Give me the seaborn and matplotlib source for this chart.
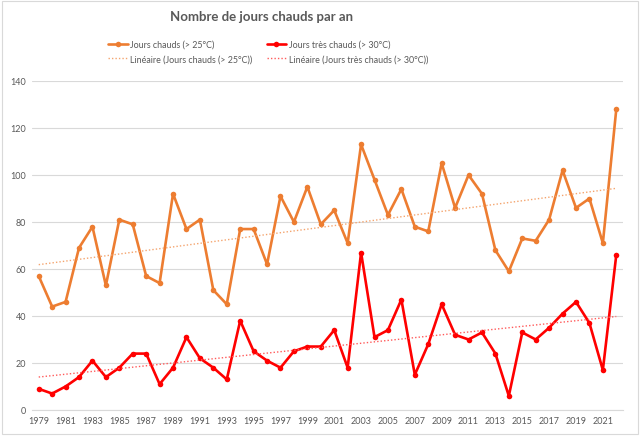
import matplotlib.pyplot as plt
import seaborn as sns
import pandas as pd
from matplotlib.patches import Rectangle

years = list(range(1979, 2023))
jours_chauds = [57, 44, 46, 69, 78, 53, 81, 79, 57, 54, 92, 77, 81, 51, 45, 77, 77, 62, 91, 80, 95, 79,
                85, 71, 113, 98, 83, 94, 78, 76, 105, 86, 100, 92, 68, 59, 73, 72, 81, 102, 86, 90, 71, 128]
jours_tres_chauds = [9, 7, 10, 14, 21, 14, 18, 24, 24, 11, 18, 31, 22, 18, 13, 38, 25, 21, 18, 25, 27, 27,
                     34, 18, 67, 31, 34, 47, 15, 28, 45, 32, 30, 33, 24, 6, 33, 30, 35, 41, 46, 37, 17, 66]
year_ticks = list(range(1979, 2022, 2))
y_ticks = [0, 20, 40, 60, 80, 100, 120, 140]
legend_labels = ['Jours chauds (> 25°C)', 'Linéaire (Jours chauds (> 25°C))',
                 'Jours très chauds (> 30°C)', 'Linéaire (Jours très chauds (> 30°C))']

df = pd.DataFrame({'annee': years, 'chauds': jours_chauds, 'tres_chauds': jours_tres_chauds})

sns.set_style('white')
plt.rcParams['font.family'] = ['Lato', 'DejaVu Sans']

orange = '#ED7D31'
red = '#FF0000'
grey = '#595959'

fig = plt.figure(figsize=(6.4, 4.39), dpi=100)
ax = fig.add_axes([32 / 640, 1 - 411 / 439, (623 - 32) / 640, (411 - 82) / 439])

sns.lineplot(data=df, x='annee', y='chauds', ax=ax, color=orange, lw=1.9, marker='o',
             markersize=4, markeredgewidth=0)
sns.regplot(data=df, x='annee', y='chauds', ax=ax, scatter=False, ci=None,
            line_kws=dict(color='#F4A46E', lw=1, ls=(0, (1, 1.5))))
sns.lineplot(data=df, x='annee', y='tres_chauds', ax=ax, color=red, lw=1.9, marker='o',
             markersize=4, markeredgewidth=0)
sns.regplot(data=df, x='annee', y='tres_chauds', ax=ax, scatter=False, ci=None,
            line_kws=dict(color='#FF5A5A', lw=1, ls=(0, (1, 1.5))))

ax.set_xlim(1978.5, 2022.5)
ax.set_ylim(0, 140)
ax.set_xticks(year_ticks)
ax.set_xticklabels([str(y) for y in year_ticks])
ax.set_yticks(y_ticks)
ax.tick_params(axis='both', length=0, labelsize=6.5, labelcolor=grey, pad=4)
ax.grid(axis='y', color='#D9D9D9', lw=0.8)
ax.set_axisbelow(True)
for s in ['top', 'right', 'left']:
    ax.spines[s].set_visible(False)
ax.spines['bottom'].set_color('#D9D9D9')
ax.spines['bottom'].set_linewidth(0.8)
ax.set_xlabel('')
ax.set_ylabel('')

handles = list(ax.lines[:4])
fig.legend(handles, legend_labels, ncol=2,
           loc='upper left', bbox_to_anchor=(100 / 640, 1 - 33 / 439), frameon=False,
           fontsize=6.4, labelcolor=grey, handlelength=2.2, handletextpad=0.3,
           columnspacing=1.6, labelspacing=0.6)

fig.text(262 / 640, 1 - 17 / 439, 'Nombre de jours chauds par an', ha='center', va='center',
         fontsize=9.5, fontweight='bold', color=grey)

fig.patches.append(Rectangle((2 / 640, 4 / 439), 1 - 4 / 640, 1 - 6 / 439, transform=fig.transFigure,
                             fill=False, ec='#D9D9D9', lw=0.8))

fig.savefig('out.png', dpi=100)
